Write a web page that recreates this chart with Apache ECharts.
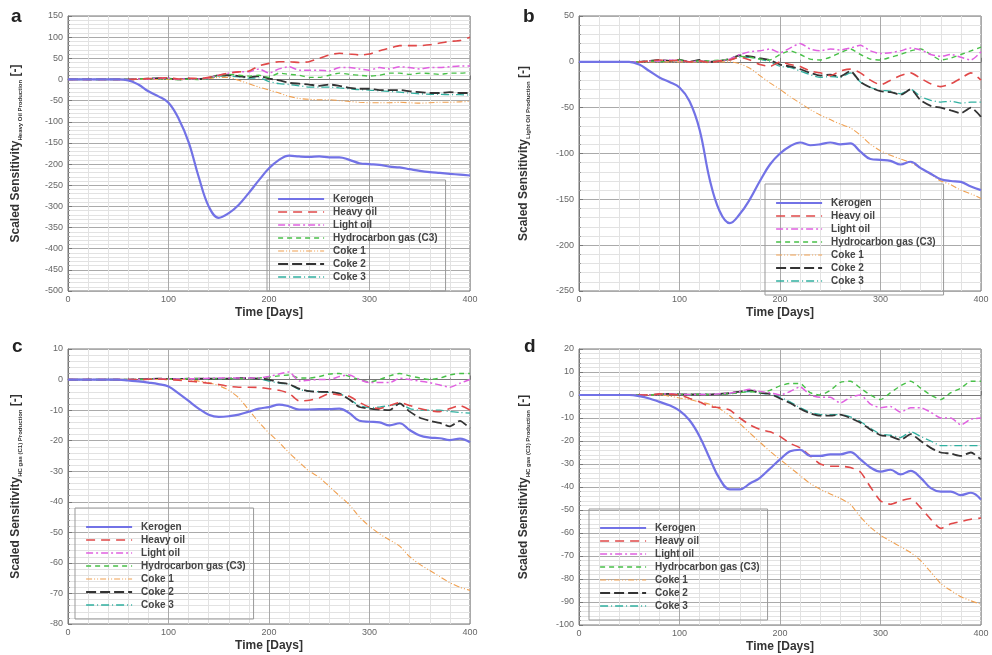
<!DOCTYPE html>
<html><head><meta charset="utf-8">
<script src="https://cdn.jsdelivr.net/npm/echarts@6/dist/echarts.min.js"></script>
<style>html,body{margin:0;padding:0;background:#fff}#c{width:992px;height:655px}</style>
</head><body><div id="c"></div>
<script>
const days = [0,10,20,30,40,50,60,70,80,90,100,110,120,130,140,150,160,170,180,190,200,210,220,230,240,250,260,270,280,290,300,310,320,330,340,350,360,370,380,390,400];
const seriesNames = ['Kerogen','Heavy oil','Light oil','Hydrocarbon gas (C3)','Coke 1','Coke 2','Coke 3'];
const panelLetters = ['a','b','c','d'];
const panelSubscripts = ['Heavy Oil Production','Light Oil Production','HC gas (C1) Production','HC gas (C3) Production'];
const yMins = [-500,-250,-80,-100];
const yMaxs = [150,50,10,20];
const yIntervals = [50,50,10,10];
const xTicks = [0,100,200,300,400];

// Panel a
const aKerogen = [0,0,0,0,0,0,-2,-12,-28,-40,-55,-92,-148,-230,-300,-327,-316,-296,-268,-238,-210,-190,-180,-182,-183,-182,-184,-184,-190,-198,-200,-202,-206,-208,-212,-216,-219,-221,-223,-225,-227];
const aHeavy = [0,0,0,0,0,0,0,1,2,3,4,1,3,2,5,10,15,18,20,32,38,42,42,40,42,50,58,62,60,58,60,68,74,80,80,80,82,86,90,92,100];
const aLight = [0,0,0,0,0,0,0,1,1,2,3,0,2,1,4,10,15,18,18,25,15,25,30,22,22,22,20,28,28,25,22,28,25,30,28,25,28,28,30,32,32];
const aGas = [0,0,0,0,0,0,0,1,2,1,2,-1,1,0,3,10,12,10,8,10,5,15,12,10,5,5,10,15,12,10,8,10,15,15,12,15,14,12,15,15,16];
const aCoke1 = [0,0,0,0,0,0,0,0,0,0,0,0,0,0,2,5,5,-2,-10,-18,-25,-32,-40,-45,-47,-48,-48,-50,-52,-54,-55,-55,-55,-54,-55,-56,-55,-54,-54,-53,-52];
const aCoke2 = [0,0,0,0,0,0,0,1,2,3,2,0,2,1,3,10,10,8,5,8,2,-2,-8,-10,-12,-15,-12,-15,-20,-22,-22,-25,-25,-25,-28,-30,-32,-32,-30,-32,-32];
const aCoke3 = [0,0,0,0,0,0,0,1,1,2,2,0,1,1,2,8,8,6,3,4,-5,-10,-12,-15,-18,-18,-18,-20,-22,-24,-25,-27,-28,-30,-32,-34,-35,-35,-36,-36,-37];

// Panel b
const bKerogen = [0,0,0,0,0,0,-3,-10,-17,-22,-28,-43,-74,-128,-163,-176,-166,-150,-130,-112,-100,-92,-88,-91,-90,-88,-90,-89,-98,-106,-107,-108,-112,-109,-116,-122,-128,-130,-131,-136,-140];
const bHeavy = [0,0,0,0,0,0,0,1,2,1,2,0,1,-1,1,2,5,2,-3,-5,0,-3,-5,-10,-12,-15,-10,-8,-12,-20,-25,-20,-15,-12,-18,-24,-27,-24,-18,-12,-20];
const bLight = [0,0,0,0,0,0,0,1,1,2,1,0,1,0,1,3,8,11,12,14,10,15,20,14,12,14,13,15,18,12,9,10,12,15,13,8,6,8,5,2,11];
const bGas = [0,0,0,0,0,0,0,1,0,1,2,0,1,1,2,3,6,5,3,2,8,12,8,3,2,5,10,14,8,3,2,5,8,12,14,8,2,4,8,12,16];
const bCoke1 = [0,0,0,0,0,0,0,0,0,0,0,0,0,0,0,0,-2,-7,-15,-23,-30,-38,-45,-52,-58,-63,-68,-72,-80,-90,-97,-102,-106,-110,-116,-123,-130,-134,-140,-144,-149];
const bCoke2 = [0,0,0,0,0,0,0,1,2,1,2,0,2,0,1,3,7,6,4,2,-3,-5,-8,-12,-15,-14,-16,-10,-22,-28,-32,-33,-36,-30,-42,-48,-50,-53,-56,-50,-60];
const bCoke3 = [0,0,0,0,0,0,0,1,1,1,1,0,1,0,1,2,5,5,3,0,-5,-6,-10,-14,-17,-16,-17,-12,-22,-28,-31,-32,-35,-30,-38,-42,-44,-43,-45,-44,-44];

// Panel c
const cKerogen = [0,0,0,0,0,0,-0.3,-0.6,-1.0,-1.5,-2.3,-4.5,-7,-9.5,-11.5,-12.2,-12,-11.5,-10.5,-9.5,-9,-8.2,-8.8,-9.8,-9.8,-9.7,-9.7,-9.5,-11,-13.5,-13.8,-14,-15,-14.3,-16.5,-18.3,-19,-19.2,-19.8,-19.3,-20.5];
const cHeavy = [0,0,0,0,0,0,0,0,0.1,0.2,0,-0.2,-0.5,-0.8,-1.2,-1.6,-2.2,-2.5,-2.5,-2.6,-3,-3.5,-4.5,-7,-6.8,-6,-4.6,-5,-5.5,-7.5,-9,-9.5,-8.5,-7.5,-8.5,-9.5,-10.2,-10.5,-9.5,-8.5,-10];
const cLight = [0,0,0,0,0,0,0,0,0.1,0.2,0.2,0.2,0.3,0.3,0.4,0.5,0.5,0.5,0.5,0.5,1,1.8,2.5,-0.5,-0.2,0,0,1,1.5,0,-1,-1,-1,0.4,0,-0.5,-1,-1.8,-2.5,-1.2,0];
const cGas = [0,0,0,0,0,0,0,0,0.1,0.2,0.2,0.2,0.3,0.3,0.3,0.3,0.3,0.3,0.3,0.5,0.8,1.2,1.5,0.5,0.5,1,1.8,2,1,0,-0.8,0,1.2,2,1.2,0.5,0,0.5,1.5,2,2];
const cCoke1 = [0,0,0,0,0,0,0,0,0,0,0,0,0,-0.5,-1,-2,-3.5,-6,-10,-14,-17.5,-20.5,-24,-27,-30,-32,-35,-38,-41,-45,-48,-50.5,-52.5,-54.5,-58,-60.5,-62.5,-64.5,-66.5,-68,-69];
const cCoke2 = [0,0,0,0,0,0,0,0.1,0.2,0.3,0.2,0.2,0.3,0.3,0.3,0.3,0.3,0.5,0.5,0.3,0,-1,-1.5,-3,-3.8,-4,-4,-4.6,-6.5,-9,-9.5,-9.8,-10,-7.8,-10.5,-12.5,-13.5,-14.2,-15.3,-13.5,-16];
const cCoke3 = [0,0,0,0,0,0,0,0.1,0.2,0.2,0.2,0.2,0.3,0.3,0.3,0.3,0.3,0.4,0.4,0.2,-0.5,-1.2,-1.5,-3.3,-3.8,-4,-4.2,-4.5,-6.5,-8.5,-9.2,-9,-8.5,-8,-9.5,-10,-10,-10,-10.5,-10.8,-11];

// Panel d
const dKerogen = [0,0,0,0,0,0,-0.5,-1.5,-3,-4.5,-6.8,-11,-18,-27.5,-36.5,-41,-41,-38.5,-36,-32,-28,-24.5,-23.8,-26.5,-26.5,-25.8,-25.8,-24.8,-28,-31.5,-33.3,-32.5,-34.5,-33,-36,-40.5,-42,-42,-43.5,-42.5,-45.5];
const dHeavy = [0,0,0,0,0,0,0,0,0.5,0.3,0,-1.5,-3,-5,-5.5,-6.5,-10,-13,-15,-16,-18,-21,-23,-26.5,-30,-31,-31,-31.5,-33.5,-40,-46,-47.5,-46,-45,-49,-54,-58,-56,-55,-54,-53.5];
const dLight = [0,0,0,0,0,0,0,0,0.3,0.5,0.3,0.2,0.3,0.2,0.5,0.8,1.5,2.5,1.5,1,0,1.5,3.5,0,-1,-1,-3.5,-1,0,-4,-5.5,-5,-7.5,-5.5,-5.5,-7.5,-10,-10,-13,-10.5,-10];
const dGas = [0,0,0,0,0,0,0,0,0.3,0.5,0.3,0.2,0.3,0.2,0.4,0.5,1,1.5,1,2,4,5,5,1,0,2,5.5,6,3,0,-2,1,4,6,3,0,-2,1,3,6,6];
const dCoke1 = [0,0,0,0,0,0,0,0,0,-0.5,-1.3,-2,-3,-4,-6,-9,-12.5,-16.5,-20.5,-24.5,-28,-31.5,-35,-38.5,-41,-43,-45,-47.5,-53,-57.5,-61,-63.5,-66,-68.5,-72,-77,-82,-85,-87.7,-89.5,-91];
const dCoke2 = [0,0,0,0,0,0,0,0,0.3,0.5,0.3,0.2,0.3,0.2,0.5,0.8,1.5,2,1,0.5,-1.5,-3.5,-6,-8,-9,-9,-8.5,-10,-12,-15,-17.5,-18,-19.5,-17,-20,-23,-25,-25.5,-26.5,-25,-28];
const dCoke3 = [0,0,0,0,0,0,0,0,0.2,0.4,0.3,0.2,0.3,0.2,0.4,0.6,1.2,1.5,0.8,0.3,-1,-3,-5.5,-7.5,-8.5,-8.5,-8.5,-9.5,-11.5,-14.5,-17,-17.5,-18.5,-16,-18,-20,-22,-22,-22,-22,-22];

const panels = [
  [aKerogen,aHeavy,aLight,aGas,aCoke1,aCoke2,aCoke3],
  [bKerogen,bHeavy,bLight,bGas,bCoke1,bCoke2,bCoke3],
  [cKerogen,cHeavy,cLight,cGas,cCoke1,cCoke2,cCoke3],
  [dKerogen,dHeavy,dLight,dGas,dCoke1,dCoke2,dCoke3]
];

const styles = [
  {color:'#7272e6', width:2.2, type:'solid', smooth:0.4},
  {color:'#e04848', width:1.6, type:[9,6], smooth:0.2},
  {color:'#e060e0', width:1.5, type:[7,3,2,3], smooth:0.2},
  {color:'#48c048', width:1.4, type:[5,4], smooth:0.2},
  {color:'#f0a050', width:1.1, type:[6,2,1,2,1,2], smooth:0.2},
  {color:'#333333', width:1.8, type:[10,4], smooth:0.2},
  {color:'#30b0a0', width:1.3, type:[8,3,1,3], smooth:0.2}
];

const grids = [
  {left:68, top:16, width:402, height:275},
  {left:579, top:16, width:402, height:275},
  {left:68, top:349, width:402, height:275},
  {left:579, top:349, width:402, height:276}
];
const legendPos = [
  {left:267, top:180},
  {left:765, top:184},
  {left:75, top:508},
  {left:589, top:509}
];
const letterPos = [
  {left:11, top:7},
  {left:523, top:7},
  {left:12, top:337},
  {left:524, top:337}
];

const option = {
  animation:false,
  backgroundColor:'#fff',
  title: panelLetters.map((t,i)=>({text:t, left:letterPos[i].left, top:letterPos[i].top, padding:0,
    textStyle:{fontSize:19, fontWeight:'bold', color:'#222', fontFamily:'Liberation Sans, Arial'}})),
  grid: grids.map(g=>Object.assign({show:true, borderColor:'#777', borderWidth:1, backgroundColor:'#fff'}, g)),
  legend: legendPos.map((p,i)=>({
    data: seriesNames, left:p.left, top:p.top, orient:'vertical',
    itemWidth:46, itemHeight:12, itemGap:1,
    padding:[13,8,8,10], borderColor:'#999', borderWidth:1,
    backgroundColor:'transparent', selectedMode:false,
    itemStyle:{opacity:0},
    lineStyle:{width:'inherit'},
    textStyle:{fontSize:10, fontWeight:'bold', color:'#444', fontFamily:'Liberation Sans, Arial', lineHeight:12, padding:[0,0,0,4]}
  })),
  xAxis: grids.map((g,i)=>({
    type:'value', gridIndex:i, min:0, max:400, interval:100,
    name:'Time [Days]', nameLocation:'middle', nameGap:16,
    nameTextStyle:{fontSize:12, fontWeight:'bold', color:'#333', fontFamily:'Liberation Sans, Arial'},
    axisLine:{show:true, lineStyle:{color:'#777'}},
    axisTick:{show:true, inside:true, length:4, lineStyle:{color:'#777'}},
    minorTick:{show:true, splitNumber:5, length:2, lineStyle:{color:'#999'}},
    axisLabel:{fontSize:9, color:'#666', margin:4, fontFamily:'Liberation Sans, Arial',
      formatter: v => xTicks.indexOf(v) >= 0 ? String(v) : ''},
    splitLine:{show:true, lineStyle:{color:'#aaa', width:1}},
    minorSplitLine:{show:true, lineStyle:{color:'#e2e2e2', width:1}}
  })),
  yAxis: grids.map((g,i)=>({
    type:'value', gridIndex:i, min:yMins[i], max:yMaxs[i], interval:yIntervals[i],
    name:'{m|Scaled Sensitivity}{s|' + panelSubscripts[i] + '}{m| [-]}',
    nameLocation:'middle', nameGap: (i%2===0) ? 45 : 48, nameRotate:90,
    nameTextStyle:{rich:{
      m:{fontSize:12, fontWeight:'bold', color:'#333', fontFamily:'Liberation Sans, Arial', lineHeight:14},
      s:{fontSize:6, fontWeight:'bold', color:'#333', fontFamily:'Liberation Sans, Arial', verticalAlign:'bottom', lineHeight:14, padding:[7,0,0,0]}
    }},
    axisLine:{show:true, lineStyle:{color:'#777'}},
    axisTick:{show:true, inside:true, length:4, lineStyle:{color:'#777'}},
    minorTick:{show:true, splitNumber:5, length:2, lineStyle:{color:'#999'}},
    axisLabel:{fontSize:9, color:'#666', margin:5, fontFamily:'Liberation Sans, Arial'},
    splitLine:{show:true, lineStyle:{color:'#aaa', width:1}},
    minorSplitLine:{show:true, lineStyle:{color:'#e2e2e2', width:1}}
  })),
  series: []
};

panels.forEach((vals, pi) => {
  vals.forEach((arr, si) => {
    const st = styles[si];
    option.series.push({
      type:'line', name: seriesNames[si], xAxisIndex:pi, yAxisIndex:pi,
      data: days.map((d,k)=>[d, arr[k]]),
      showSymbol:false, symbol:'none', smooth: st.smooth,
      lineStyle:{color:st.color, width:st.width, type:st.type},
      itemStyle:{color:st.color},
      z: 10 - si
    });
  });
});

const chart = echarts.init(document.getElementById('c'), null, {renderer:'canvas'});
chart.setOption(option);
</script>
</body></html>
